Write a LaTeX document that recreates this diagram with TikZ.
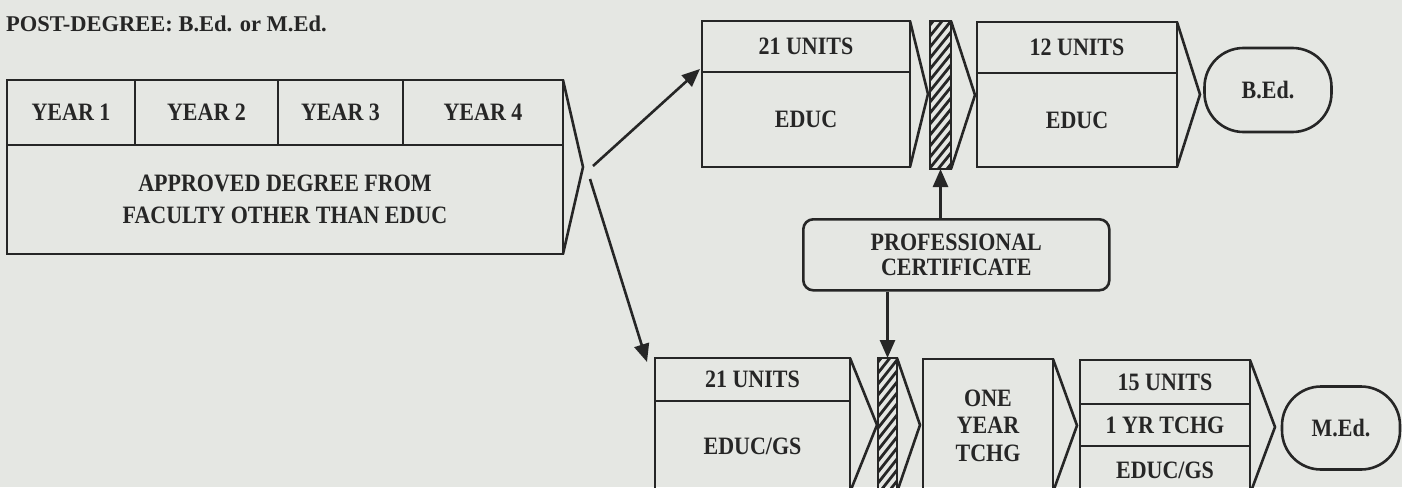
\documentclass[tikz,border=0pt]{standalone}
\usepackage{fontspec}
\newfontfamily\dgfont{Liberation Serif}[FakeStretch=0.88]
\newfontfamily\ttlfont{Liberation Serif}
\usetikzlibrary{arrows.meta,calc}
\definecolor{bg}{RGB}{229,231,227}
\definecolor{ink}{RGB}{38,38,38}
\begin{document}
\begin{tikzpicture}[x=1pt,y=-1pt,
  lw/.style={line width=2.6pt},
  txt/.style={text=ink, align=center, font=\dgfont\bfseries\fontsize{25}{30}\selectfont},
  cell/.style={draw=ink, lw, inner sep=0pt, outer sep=0pt, anchor=north west, txt},
  lbl/.style={inner sep=0pt, txt},
  chev/.style={draw=ink, lw, line join=miter},
  arr/.style={draw=ink, lw, -{Triangle[length=18pt,width=15pt]}},
  term/.style={draw=ink, lw, rounded corners=39pt, inner sep=0pt, txt},
  certbox/.style={draw=ink, lw, rounded corners=10pt, inner sep=0pt, anchor=north west, txt},
  hatch/.style={draw=ink, line width=2.8pt}
]
\path[use as bounding box, fill=bg] (0,0) rectangle (1402,487);
\clip (0,0) rectangle (1402,487);

% title
\node[lbl, anchor=west, font=\ttlfont\bfseries\fontsize{22.5}{26}\selectfont] (title) at (6,24) {POST-DEGREE: B.Ed. or M.Ed.};

% undergraduate degree block
\node[cell, minimum width=556pt, minimum height=174pt] (deg) at (7,80) {};
\node[cell, minimum width=128pt, minimum height=65pt] (y1) at (7,80) {YEAR 1};
\node[cell, minimum width=143pt, minimum height=65pt] (y2) at (135,80) {YEAR 2};
\node[cell, minimum width=125pt, minimum height=65pt] (y3) at (278,80) {YEAR 3};
\node[cell, minimum width=160pt, minimum height=65pt] (y4) at (403,80) {YEAR 4};
\node[lbl, font=\dgfont\bfseries\fontsize{25}{32}\selectfont] (degtxt) at (285,199) {APPROVED DEGREE FROM\\FACULTY OTHER THAN EDUC};
\coordinate (dp) at ($(deg.east)+(20,0)$);
\draw[chev] (deg.north east) -- (dp) -- (deg.south east);

% B.Ed. route
\node[cell, minimum width=208pt, minimum height=51pt] (a1) at (702,21) {21 UNITS};
\node[cell, minimum width=208pt, minimum height=95pt] (a2) at (702,72) {EDUC};
\coordinate (pa) at ($(a1.north east)!0.5!(a2.south east)+(18,0)$);
\draw[chev] (a1.north east) -- (pa) -- (a2.south east);

\node[cell, minimum width=21pt, minimum height=148pt] (barT) at (930,21) {};
\begin{scope}
  \clip (barT.north west) rectangle (barT.south east);
  \foreach \k in {4,15,...,210} \draw[hatch] ($(barT.north west)+(0,\k)$) -- ++(21,-26);
\end{scope}
\node[cell, minimum width=21pt, minimum height=148pt] at (930,21) {};
\coordinate (pt) at ($(barT.east)+(24,0)$);
\draw[chev] (barT.north east) -- (pt) -- (barT.south east);

\node[cell, minimum width=200pt, minimum height=51pt] (b1) at (977,22) {12 UNITS};
\node[cell, minimum width=200pt, minimum height=94pt] (b2) at (977,73) {EDUC};
\coordinate (pb) at ($(b1.north east)!0.5!(b2.south east)+(23,0)$);
\draw[chev] (b1.north east) -- (pb) -- (b2.south east);

\node[term, minimum width=127pt, minimum height=84pt] (bed) at (1268,90) {B.Ed.};

% professional certificate
\node[certbox, minimum width=306pt, minimum height=71pt, font=\dgfont\bfseries\fontsize{25}{25}\selectfont] (cert) at (802,218) {PROFESSIONAL\\CERTIFICATE};

% M.Ed. route
\node[cell, minimum width=195pt, minimum height=43pt] (c1) at (655,358) {21 UNITS};
\node[cell, minimum width=195pt, minimum height=91pt] (c2) at (655,401) {EDUC/GS};
\coordinate (pc) at ($(c1.north east)!0.5!(c2.south east)+(27,0)$);
\draw[chev] (c1.north east) -- (pc) -- (c2.south east);

\node[cell, minimum width=19pt, minimum height=134pt] (barB) at (878,358) {};
\begin{scope}
  \clip (barB.north west) rectangle (barB.south east);
  \foreach \k in {4,15,...,190} \draw[hatch] ($(barB.north west)+(0,\k)$) -- ++(19,-24);
\end{scope}
\node[cell, minimum width=19pt, minimum height=134pt] at (878,358) {};
\coordinate (pbb) at ($(barB.east)+(23,0)$);
\draw[chev] (barB.north east) -- (pbb) -- (barB.south east);

\node[cell, minimum width=130pt, minimum height=133pt, font=\dgfont\bfseries\fontsize{25}{27.5}\selectfont] (d) at (923,359) {ONE\\YEAR\\TCHG};
\coordinate (pd) at ($(d.east)+(24,0)$);
\draw[chev] (d.north east) -- (pd) -- (d.south east);

\node[cell, minimum width=170pt, minimum height=44pt] (e1) at (1080,360) {15 UNITS};
\node[cell, minimum width=170pt, minimum height=42pt] (e2) at (1080,404) {1 YR TCHG};
\node[cell, minimum width=170pt, minimum height=48pt] (e3) at (1080,446) {EDUC/GS};
\coordinate (pe) at ($(e1.north east)!0.5!(e3.south east)+(25,0)$);
\draw[chev] (e1.north east) -- (pe) -- (e3.south east);

\node[term, minimum width=118pt, minimum height=83pt] (med) at (1341,428) {M.Ed.};

% connectors
\draw[arr] ($(dp)+(10,-1)$) -- ($(a1.south west)+(-2,-3)$);
\draw[arr] ($(dp)+(7,12)$) -- ($(c1.north west)+(-8,4)$);
\draw[arr] (cert.north -| barT.south) -- (barT.south);
\draw[arr] (cert.south -| barB.north) -- (barB.north);
\end{tikzpicture}
\end{document}
